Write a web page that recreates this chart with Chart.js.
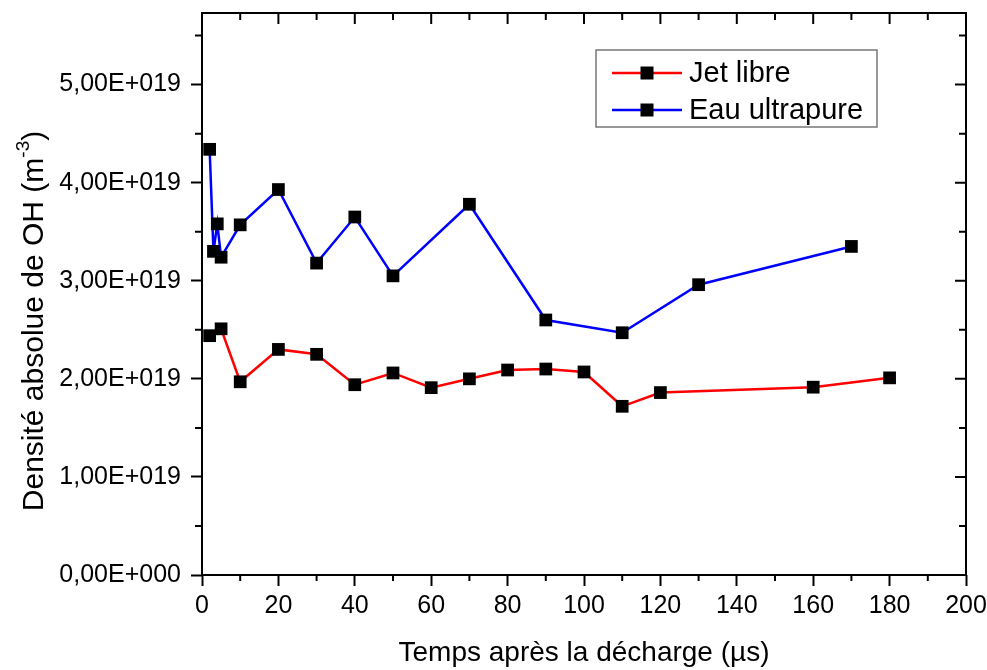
<!DOCTYPE html>
<html>
<head>
<meta charset="utf-8">
<script src="https://cdn.jsdelivr.net/npm/chart.js@4/dist/chart.umd.min.js"></script>
<style>
  html, body { margin: 0; padding: 0; background: #fff; }
</style>
</head>
<body>
<canvas id="myChart" width="987" height="670"></canvas>
<script>
// temps (µs) et densité OH (m-3)
const jetX = [2, 5, 10, 20, 30, 40, 50, 60, 70, 80, 90, 100, 110, 120, 160, 180];
const jetY = [2.44e19, 2.51e19, 1.97e19, 2.30e19, 2.25e19, 1.94e19, 2.06e19, 1.91e19,
              2.00e19, 2.09e19, 2.10e19, 2.07e19, 1.72e19, 1.86e19, 1.915e19, 2.01e19];
const eauX = [2, 3, 4, 5, 10, 20, 30, 40, 50, 70, 90, 110, 130, 170];
const eauY = [4.34e19, 3.30e19, 3.58e19, 3.24e19, 3.57e19, 3.93e19, 3.18e19, 3.65e19,
              3.05e19, 3.78e19, 2.60e19, 2.47e19, 2.96e19, 3.35e19];
const seriesLabels = ['Jet libre', 'Eau ultrapure'];
const xTicks = [0, 20, 40, 60, 80, 100, 120, 140, 160, 180, 200];
const yTicks = [0, 1e19, 2e19, 3e19, 4e19, 5e19];
const xTitle = 'Temps après la décharge (µs)';
const yTitleMain = 'Densité absolue de OH (m';
const yTitleSup = '-3';

const font = '"Liberation Sans", Arial, sans-serif';
const ctx = document.getElementById('myChart');

function pts(xs, ys) {
    return xs.map((t, i) => ({ x: t, y: ys[i] }));
}

function fmtY(v) {
    if (v === 0) return '0,00E+000';
    return (v / 1e19).toFixed(2).replace('.', ',') + 'E+019';
}

// cadre + petites graduations (comme Origin)
const frame = {
    id: 'frame',
    afterDraw(chart) {
        const c = chart.ctx;
        const a = chart.chartArea;
        const xs = chart.scales.x, ys = chart.scales.y;
        c.save();
        c.strokeStyle = '#000';
        c.lineWidth = 2;
        c.strokeRect(a.left, a.top, a.right - a.left, a.bottom - a.top);
        c.beginPath();
        for (let v = xs.min; v <= xs.max; v += 10) {
            const p = xs.getPixelForValue(v);
            const major = v % 20 === 0;
            c.moveTo(p, a.top);
            c.lineTo(p, a.top + (major ? 11 : 7));
            if (!major) {
                c.moveTo(p, a.bottom);
                c.lineTo(p, a.bottom + 6);
            }
        }
        for (let k = 0; k * 0.5e19 <= ys.max; k++) {
            const p = ys.getPixelForValue(k * 0.5e19);
            const major = k % 2 === 0;
            c.moveTo(a.right, p);
            c.lineTo(a.right - (major ? 11 : 7), p);
            if (!major) {
                c.moveTo(a.left, p);
                c.lineTo(a.left - 7, p);
            }
        }
        c.stroke();

        // titre Y avec exposant
        c.translate(35, (a.top + a.bottom) / 2 + 27);
        c.rotate(-Math.PI / 2);
        c.fillStyle = '#000';
        c.textBaseline = 'middle';
        c.font = '30px ' + font;
        const w1 = c.measureText(yTitleMain).width;
        const w3 = c.measureText(')').width;
        c.font = '19px ' + font;
        const w2 = c.measureText(yTitleSup).width;
        let x = -(w1 + w2 + w3) / 2;
        c.font = '30px ' + font;
        c.fillText(yTitleMain, x, 0);
        x += w1;
        c.font = '19px ' + font;
        c.fillText(yTitleSup, x, -11);
        x += w2;
        c.font = '30px ' + font;
        c.fillText(')', x, 0);
        c.restore();
    }
};

// légende encadrée dans le graphe
const boxLegend = {
    id: 'boxLegend',
    afterDraw(chart) {
        const c = chart.ctx;
        const a = chart.chartArea;
        const bx = a.right - 370, by = a.top + 37, bw = 281, bh = 77;
        c.save();
        c.strokeStyle = '#777';
        c.lineWidth = 1.5;
        c.strokeRect(bx, by, bw, bh);
        c.font = '29px ' + font;
        c.textBaseline = 'middle';
        chart.data.datasets.forEach((ds, i) => {
            const ry = by + 23 + i * 37;
            c.strokeStyle = ds.borderColor;
            c.lineWidth = 2.5;
            c.beginPath();
            c.moveTo(bx + 16, ry);
            c.lineTo(bx + 86, ry);
            c.stroke();
            c.fillStyle = '#000';
            c.fillRect(bx + 51 - 6.5, ry - 6.5, 13, 13);
            c.fillText(ds.label, bx + 93, ry + 1);
        });
        c.restore();
    }
};

const lineStyle = {
    borderWidth: 2.5,
    pointStyle: 'rect',
    pointRadius: 9,
    pointBackgroundColor: '#000',
    pointBorderColor: '#000',
    pointBorderWidth: 0
};

new Chart(ctx, {
    type: 'line',
    data: {
        datasets: [
            Object.assign({ label: seriesLabels[0], data: pts(jetX, jetY), borderColor: '#ff0000' }, lineStyle),
            Object.assign({ label: seriesLabels[1], data: pts(eauX, eauY), borderColor: '#0000ff' }, lineStyle)
        ]
    },
    options: {
        responsive: false,
        animation: false,
        layout: { padding: { top: 13, right: 21, left: 0, bottom: 0 } },
        plugins: {
            legend: { display: false },
            tooltip: { enabled: false }
        },
        scales: {
            x: {
                type: 'linear',
                min: 0,
                max: 200,
                afterFit: (s) => { s.height = 95; s.paddingLeft = 0; s.paddingRight = 0; },
                afterBuildTicks: (s) => { s.ticks = xTicks.map(v => ({ value: v })); },
                ticks: { color: '#000', padding: 5, font: { family: font, size: 25 } },
                grid: { drawOnChartArea: false, tickLength: 11, tickWidth: 2, tickColor: '#000' },
                border: { display: false },
                title: { display: true, text: xTitle, color: '#000', padding: { bottom: 0 }, font: { family: font, size: 28 } }
            },
            y: {
                min: 0,
                max: 5.73e19,
                afterFit: (s) => { s.width = 202; s.paddingTop = 0; s.paddingBottom = 0; },
                afterBuildTicks: (s) => { s.ticks = yTicks.map(v => ({ value: v })); },
                ticks: {
                    color: '#000',
                    padding: 10,
                    font: { family: font, size: 25 },
                    callback: (v) => fmtY(v)
                },
                grid: { drawOnChartArea: false, tickLength: 11, tickWidth: 2, tickColor: '#000' },
                border: { display: false }
            }
        }
    },
    plugins: [frame, boxLegend]
});
</script>
</body>
</html>
